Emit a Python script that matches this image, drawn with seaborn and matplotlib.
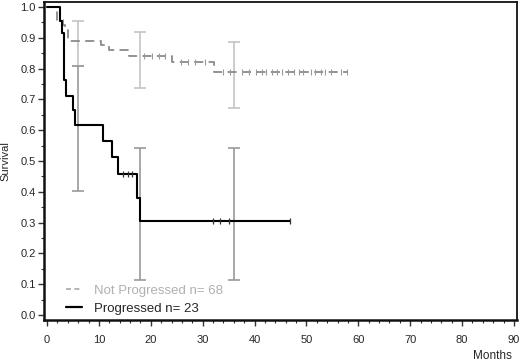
import numpy as np
import pandas as pd
import matplotlib
matplotlib.use("Agg")
import matplotlib.pyplot as plt
import seaborn as sns
from matplotlib.ticker import MultipleLocator
from matplotlib.lines import Line2D

# ---- data ----
np_times = [0, 1.5, 1.9, 3.0, 3.5, 4.1, 10.4, 12.0, 15.7, 24.0, 32.2, 57.8]
np_surv = [1.0, 0.985, 0.956, 0.941, 0.926, 0.89, 0.877, 0.859, 0.84, 0.82, 0.79, 0.79]
np_censor = [18.6, 20.2, 21.6, 22.7, 25.8, 27.2, 28.6, 30.4,
             34.0, 35.2, 37.6, 39.0, 40.2, 41.4, 42.2, 43.4, 44.4, 45.3,
             46.5, 47.6, 48.6, 49.4, 50.8, 51.7, 52.8, 53.6, 54.8, 56.6, 57.8]

p_times = [0, 2.4, 2.8, 3.2, 3.7, 5.0, 5.3, 10.7, 12.5, 13.7, 17.3, 17.9, 46.8]
p_surv = [1.0, 0.953, 0.915, 0.763, 0.712, 0.667, 0.616, 0.564, 0.512, 0.457, 0.381, 0.304, 0.304]
p_censor = [14.7, 15.5, 16.3, 31.9, 33.4, 35.1, 46.8]

np_ci_time = [6, 18, 36]
np_ci_low = [0.807, 0.738, 0.671]
np_ci_high = [0.955, 0.918, 0.887]

p_ci_time = [6, 18, 36]
p_ci_low = [0.403, 0.114, 0.114]
p_ci_high = [0.807, 0.543, 0.543]

labels = ["Not Progressed n= 68", "Progressed n= 23"]
xticks = list(range(0, 91, 10))
yticks = [round(0.1 * i, 1) for i in range(11)]


def step_value(times, surv, t):
    idx = np.searchsorted(np.asarray(times), t, side="right") - 1
    return np.asarray(surv)[idx]


sns.set_style("ticks")
plt.rcParams["font.family"] = ["Liberation Sans", "DejaVu Sans"]

fig = plt.figure(figsize=(5.2, 3.64), dpi=100)
ax = fig.add_axes([44 / 520, 1 - 320 / 364, 473 / 520, 318 / 364])

c_np = "#8a8a8a"
c_p = "#000000"

# CI bars
ax.errorbar(np_ci_time, [(a + b) / 2 for a, b in zip(np_ci_low, np_ci_high)],
            yerr=[[(b - a) / 2 for a, b in zip(np_ci_low, np_ci_high)]] * 2,
            fmt="none", ecolor="#c4c4c4", elinewidth=1.2, capsize=4, capthick=1.2, zorder=2)
ax.errorbar(p_ci_time, [(a + b) / 2 for a, b in zip(p_ci_low, p_ci_high)],
            yerr=[[(b - a) / 2 for a, b in zip(p_ci_low, p_ci_high)]] * 2,
            fmt="none", ecolor="#9a9a9a", elinewidth=1.2, capsize=4, capthick=1.2, zorder=2)

df_np = pd.DataFrame({"t": np_times, "s": np_surv})
df_p = pd.DataFrame({"t": p_times, "s": p_surv})

sns.lineplot(data=df_np, x="t", y="s", ax=ax, drawstyle="steps-post", estimator=None,
             sort=False, color=c_np, linewidth=1.3, linestyle=(0, (5, 3)), zorder=3)
sns.lineplot(data=df_p, x="t", y="s", ax=ax, drawstyle="steps-post", estimator=None,
             sort=False, color=c_p, linewidth=1.5, zorder=4)

# censor marks
cen_np = pd.DataFrame({"t": np_censor, "s": [step_value(np_times, np_surv, t) for t in np_censor]})
cen_p = pd.DataFrame({"t": p_censor, "s": [step_value(p_times, p_surv, t) for t in p_censor]})
sns.scatterplot(data=cen_np, x="t", y="s", ax=ax, marker="|", s=16, color="#9a9a9a",
                linewidth=0.8, zorder=5)
sns.scatterplot(data=cen_p, x="t", y="s", ax=ax, marker="|", s=20, color="#333333",
                linewidth=0.9, zorder=5)

ax.set_xlim(-0.6, 90.6)
ax.set_ylim(-0.016, 1.016)
ax.set_xticks(xticks)
ax.set_yticks(yticks)
ax.set_yticklabels([f"{v:.1f}" for v in yticks])
ax.xaxis.set_minor_locator(MultipleLocator(2))
ax.yaxis.set_minor_locator(MultipleLocator(0.05))
ax.tick_params(axis="both", which="major", labelsize=8, length=4, width=1.0, color="#333333")
ax.tick_params(axis="both", which="minor", length=2, width=0.8, color="#333333")
ax.tick_params(axis="x", which="major", pad=7)
ax.tick_params(axis="y", which="major", pad=2)

for side in ["left", "bottom"]:
    ax.spines[side].set_linewidth(1.8)
for side in ["top", "right"]:
    ax.spines[side].set_linewidth(1.3)
for sp in ax.spines.values():
    sp.set_color("#111111")

ax.set_ylabel("Survival", fontsize=8, labelpad=7)
ax.set_xlabel("Months", fontsize=8.5, loc="right")
ax.xaxis.set_label_coords((512 - 44) / 473, (320 - 350) / 318)

handles = [Line2D([], [], color="#a8a8a8", linestyle=(0, (3, 2)), linewidth=1.2),
           Line2D([], [], color="black", linewidth=1.6)]
leg = ax.legend(handles, labels, loc="lower left", bbox_to_anchor=(0.028, -0.012),
                frameon=False, fontsize=9.5, handlelength=1.2, handletextpad=0.85,
                labelspacing=0.42, borderpad=0.2)
leg.get_texts()[0].set_color("#b0b0b0")

fig.savefig("out.png", dpi=100, facecolor="white")
